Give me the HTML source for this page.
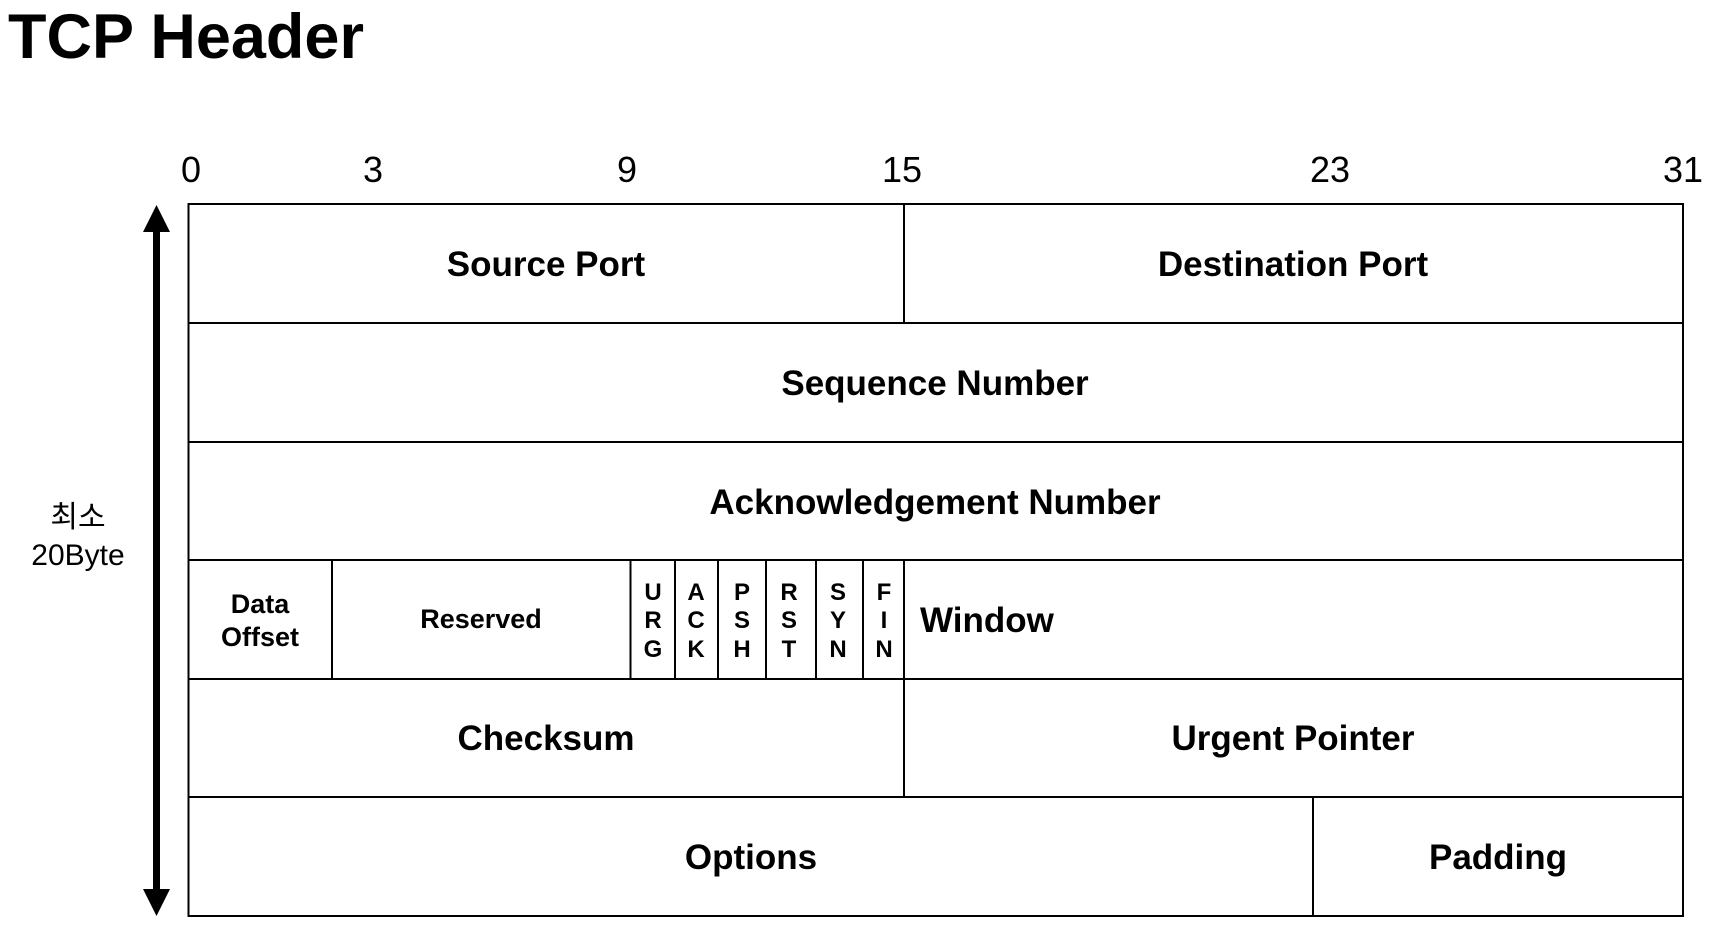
<!DOCTYPE html>
<html><head><meta charset="utf-8"><style>
html,body{margin:0;padding:0;background:#fff;width:1729px;height:929px;overflow:hidden}
svg{display:block}
text{font-family:"Liberation Sans","Noto Sans CJK KR",sans-serif;fill:#000}
</style></head><body>
<svg width="1729" height="929" viewBox="0 0 1729 929">
<text x="8" y="58" font-size="63" font-weight="bold">TCP Header</text>
<g font-size="36" text-anchor="middle">
<text x="191" y="182">0</text>
<text x="373" y="182">3</text>
<text x="627" y="182">9</text>
<text x="902" y="182">15</text>
<text x="1330" y="182">23</text>
<text x="1683" y="182">31</text>
</g>
<g>
<line x1="156.5" y1="226" x2="156.5" y2="895" stroke="#000" stroke-width="7"/>
<polygon points="143,232 156.5,205 170,232" fill="#000"/>
<polygon points="143,889 156.5,916 170,889" fill="#000"/>
</g>
<text x="78" y="527" font-size="30" text-anchor="middle">최소</text>
<text x="78" y="565" font-size="30" text-anchor="middle">20Byte</text>
<g stroke="#000" stroke-width="2" fill="none">
<rect x="188.5" y="204" width="1494.5" height="712"/>
<line x1="188.5" y1="323" x2="1683" y2="323"/>
<line x1="188.5" y1="442" x2="1683" y2="442"/>
<line x1="188.5" y1="560" x2="1683" y2="560"/>
<line x1="188.5" y1="679" x2="1683" y2="679"/>
<line x1="188.5" y1="797" x2="1683" y2="797"/>
<line x1="904" y1="204" x2="904" y2="323"/>
<line x1="332" y1="560" x2="332" y2="679"/>
<line x1="630.5" y1="560" x2="630.5" y2="679"/>
<line x1="675" y1="560" x2="675" y2="679"/>
<line x1="718" y1="560" x2="718" y2="679"/>
<line x1="766" y1="560" x2="766" y2="679"/>
<line x1="816" y1="560" x2="816" y2="679"/>
<line x1="863" y1="560" x2="863" y2="679"/>
<line x1="904" y1="560" x2="904" y2="797"/>
<line x1="1313" y1="797" x2="1313" y2="916"/>
</g>
<g font-size="35" font-weight="bold" text-anchor="middle">
<text x="546" y="276">Source Port</text>
<text x="1293" y="276">Destination Port</text>
<text x="935" y="395">Sequence Number</text>
<text x="935" y="514">Acknowledgement Number</text>
<text x="546" y="750">Checksum</text>
<text x="1293" y="750">Urgent Pointer</text>
<text x="751" y="869">Options</text>
<text x="1498" y="869">Padding</text>
<text x="920" y="632" text-anchor="start">Window</text>
</g>
<g font-size="27" font-weight="bold" text-anchor="middle">
<text x="260" y="613">Data</text>
<text x="260" y="646">Offset</text>
<text x="481" y="628">Reserved</text>
</g>
<g font-size="24" font-weight="bold" text-anchor="middle">
<text x="653" y="600">U</text><text x="653" y="628">R</text><text x="653" y="657">G</text>
<text x="696" y="600">A</text><text x="696" y="628">C</text><text x="696" y="657">K</text>
<text x="742" y="600">P</text><text x="742" y="628">S</text><text x="742" y="657">H</text>
<text x="789" y="600">R</text><text x="789" y="628">S</text><text x="789" y="657">T</text>
<text x="838" y="600">S</text><text x="838" y="628">Y</text><text x="838" y="657">N</text>
<text x="884" y="600">F</text><text x="884" y="628">I</text><text x="884" y="657">N</text>
</g>
</svg>
</body></html>
